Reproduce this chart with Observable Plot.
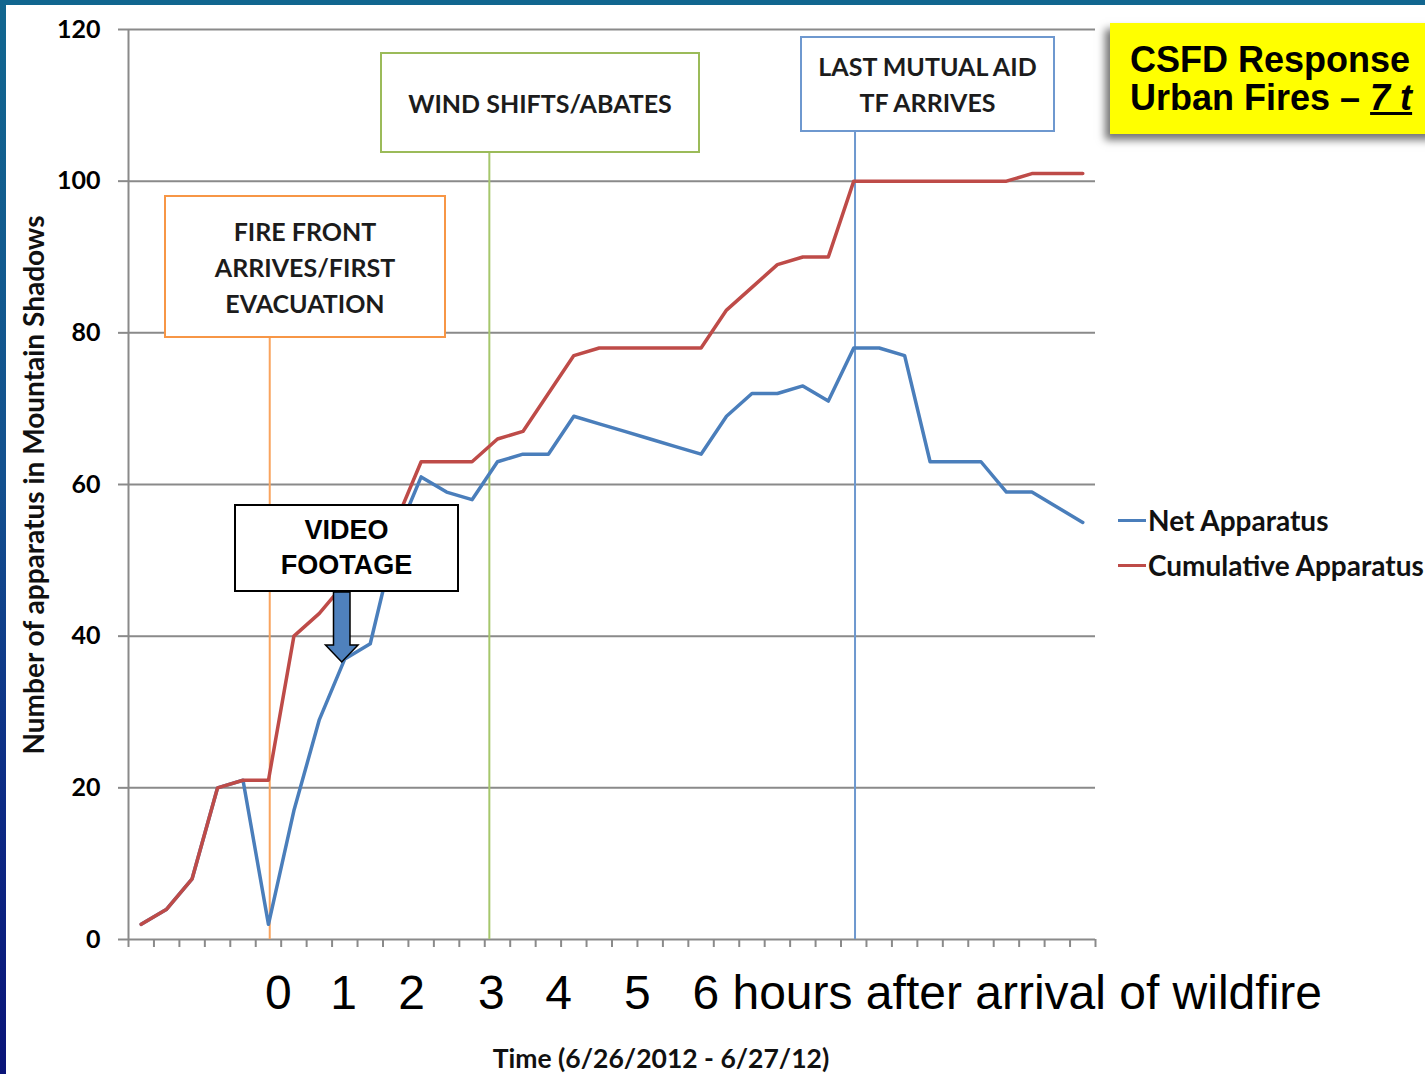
<!DOCTYPE html>
<html>
<head>
<meta charset="utf-8">
<script src="https://cdn.jsdelivr.net/npm/d3@7"></script>
<script src="https://cdn.jsdelivr.net/npm/@observablehq/plot@0.6"></script>
<style>
  html, body { margin: 0; padding: 0; overflow: hidden; background: #fff; }
  #slide { position: relative; width: 1425px; height: 1074px; overflow: hidden;
    background: linear-gradient(to bottom, #11668f 0%, #13508e 45%, #0c2a84 75%, #0a1478 100%); }
  #paper { position: absolute; left: 6px; top: 5px; right: 0; bottom: 0; background: #fff; }
  #chart { position: absolute; left: 0; top: 0; }
  .box { position: absolute; box-sizing: border-box; background: #fff; display: flex;
    align-items: center; justify-content: center; text-align: center; }
  .cal { font-family: Lato, "Open Sans", sans-serif; font-weight: 700; font-size: 25px; line-height: 36px; color: #1c1c1c; }
  .ari { font-family: Arial, "Liberation Sans", sans-serif; font-weight: 700; color: #000; }
  .leg { position: absolute; display: flex; align-items: center; font-size: 28px; color: #111; }
  .leg span.sw { display: inline-block; width: 28px; height: 3px; margin-right: 2px; }
</style>
</head>
<body>
<div id="slide">
  <div id="paper"></div>
  <div id="chart"></div>
</div>
<script>
// ---------- data ----------
const seriesNames = ["Net Apparatus", "Cumulative Apparatus"];
const netApparatus = [2, 4, 8, 20, 21, 2, 17, 29, 37, 39, 53, 61, 59, 58, 63, 64, 64, 69, 68, 67,
  66, 65, 64, 69, 72, 72, 73, 71, 78, 78, 77, 63, 63, 63, 59, 59, 57, 55];
const cumulativeApparatus = [2, 4, 8, 20, 21, 21, 40, 43, 47, 51, 55, 63, 63, 63, 66, 67, 72, 77, 78, 78,
  78, 78, 78, 83, 86, 89, 90, 90, 100, 100, 100, 100, 100, 100, 100, 101, 101, 101];
const yTicks = [0, 20, 40, 60, 80, 100, 120];
const hourLabels = ["0", "1", "2", "3", "4", "5"];
const hourPos = [5.39, 7.95, 10.62, 13.76, 16.4, 19.5];
const hourTail = "6 hours after arrival of wildfire";
const hourTailPos = 21.66;
const eventNames = ["FIRE FRONT ARRIVES/FIRST EVACUATION", "WIND SHIFTS/ABATES", "LAST MUTUAL AID TF ARRIVES"];
const eventX = [5.05, 13.68, 28.05];
const eventTop = [90, 110, 110];
const eventColors = ["#F9A45E", "#A6C76C", "#6E98CF"];

// ---------- build ----------
const n = netApparatus.length;
const boundaries = d3.range(n + 1).map(i => i - 0.5);
const netData = netApparatus.map((v, i) => ({i, v}));
const cumData = cumulativeApparatus.map((v, i) => ({i, v}));
const events = eventNames.map((name, k) => ({name, x: eventX[k], top: eventTop[k], color: eventColors[k]}));
const grid = "#8a8a8a";
const lato = 'Lato, "Open Sans", sans-serif';
const arial = 'Arial, "Liberation Sans", sans-serif';

const chart = Plot.plot({
  width: 1425,
  height: 1074,
  marginLeft: 128,
  marginRight: 330,
  marginTop: 29,
  marginBottom: 135,
  style: {background: "transparent", overflow: "visible", fontFamily: lato},
  x: {domain: [-0.5, n - 0.5], axis: null},
  y: {domain: [0, 120], axis: null},
  marks: [
    Plot.gridY(yTicks, {stroke: grid, strokeOpacity: 1, strokeWidth: 2}),
    Plot.axisY(yTicks, {tickSize: 10, tickPadding: 18, stroke: grid, strokeWidth: 2,
      fill: "#000", fontSize: 25, fontWeight: 700, fontFamily: lato, label: null}),
    Plot.axisX(boundaries, {tickSize: 8, stroke: grid, strokeWidth: 2, tickFormat: () => "", label: null}),
    Plot.ruleX([-0.5], {y1: 0, y2: 120, stroke: grid, strokeWidth: 2}),
    Plot.ruleX(events, {x: "x", y1: 0, y2: "top", stroke: "color", strokeWidth: 2, insetBottom: -3}),
    Plot.line(netData, {x: "i", y: "v", stroke: "#4A7EBB", strokeWidth: 3.5}),
    Plot.line(cumData, {x: "i", y: "v", stroke: "#BE4B48", strokeWidth: 3.5}),
    Plot.text(hourLabels, {x: (d, k) => hourPos[k], y: 0, dy: 54, text: d => d,
      fontSize: 48, fontFamily: arial, fill: "#000", lineAnchor: "middle"}),
    Plot.text([hourTail], {x: hourTailPos, y: 0, dy: 54, text: d => d, textAnchor: "start",
      fontSize: 48, fontFamily: arial, fill: "#000", lineAnchor: "middle"})
  ]
});
const slide = document.getElementById("slide");
document.getElementById("chart").appendChild(chart);

// ---------- overlays (annotations, legend, titles) ----------
function add(html) { slide.insertAdjacentHTML("beforeend", html); }

add(`<div class="box cal" style="left:164px;top:195px;width:282px;height:143px;border:2px solid #F79646;">FIRE FRONT<br>ARRIVES/FIRST<br>EVACUATION</div>`);
add(`<div class="box cal" style="left:380px;top:52px;width:320px;height:101px;border:2px solid #9BBB59;">WIND SHIFTS/ABATES</div>`);
add(`<div class="box cal" style="left:800px;top:36px;width:255px;height:96px;border:2px solid #6E98CF;">LAST MUTUAL AID<br>TF ARRIVES</div>`);
add(`<div class="box ari" style="left:234px;top:504px;width:225px;height:88px;border:2px solid #000;font-size:27px;line-height:35px;">VIDEO<br>FOOTAGE</div>`);
add(`<svg style="position:absolute;left:0;top:0;overflow:visible" width="1425" height="1074">
  <polygon points="333.5,592 350,592 350,645 358,645 341.7,662 325.5,645 333.5,645"
    fill="#4F81BD" stroke="#000" stroke-width="1.5" stroke-linejoin="miter"/></svg>`);

// legend
const legColors = ["#4A7EBB", "#BE4B48"];
const legY = [520, 565];
seriesNames.forEach((name, k) => {
  add(`<div class="leg cal" style="left:1118px;top:${legY[k] - 18}px;height:36px;">
    <span class="sw" style="background:${legColors[k]}"></span>${name}</div>`);
});

// y axis title
add(`<div class="cal" style="position:absolute;left:33px;top:485px;transform:translate(-50%,-50%) rotate(-90deg);white-space:nowrap;color:#111;font-size:28px;">Number of apparatus in Mountain Shadows</div>`);
// x axis title
add(`<div class="cal" style="position:absolute;left:661px;top:1058px;transform:translate(-50%,-50%);white-space:nowrap;color:#111;font-size:26.5px;">Time (6/26/2012 - 6/27/12)</div>`);
// slide title box
add(`<div class="ari" style="position:absolute;left:1110px;top:23px;width:420px;height:111px;background:#FFFF00;box-shadow:-5px 6px 8px rgba(0,0,0,0.55);font-size:36px;line-height:38px;box-sizing:border-box;padding:18px 0 0 20px;white-space:nowrap;">CSFD Response<br>Urban Fires – <i style="text-decoration:underline">7 t</i></div>`);
</script>
</body>
</html>
